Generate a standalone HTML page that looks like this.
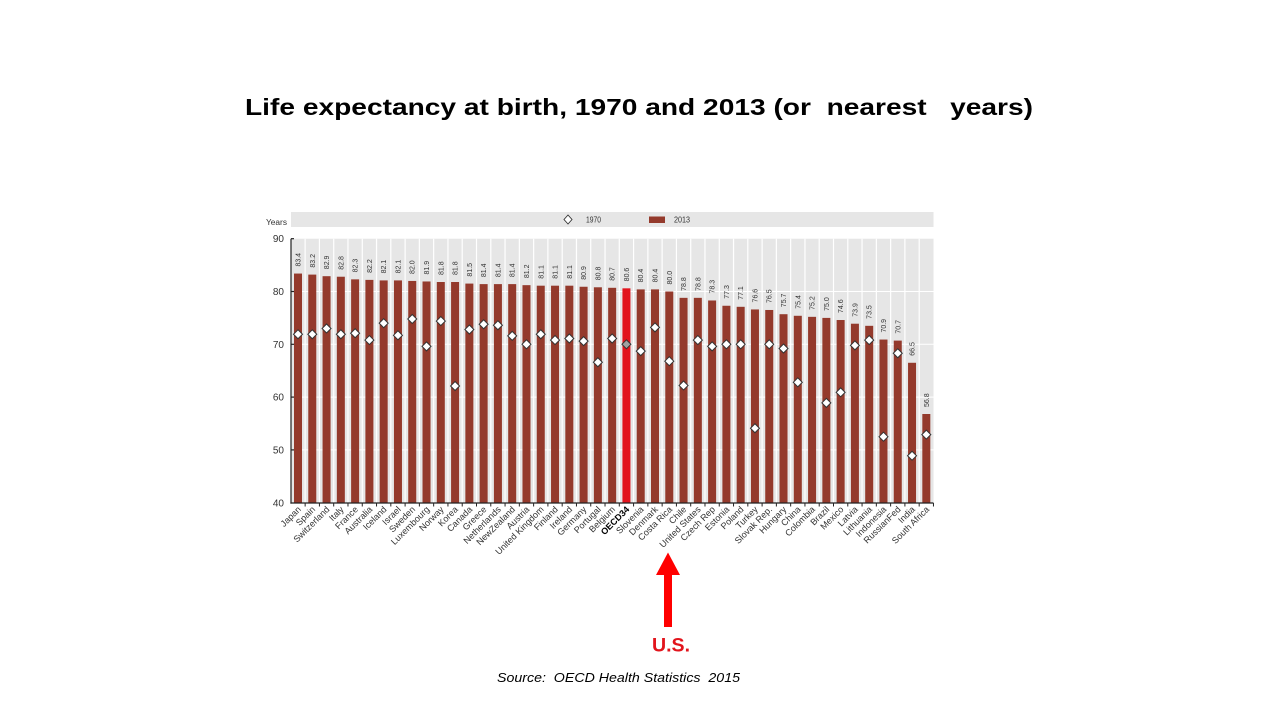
<!DOCTYPE html>
<html><head><meta charset="utf-8"><style>
html,body{margin:0;padding:0;background:#fff;}
svg{display:block;}
text{font-family:"Liberation Sans",Arial,sans-serif;}
.v{font-size:7px;fill:#333;}
.x{font-size:9px;fill:#333;text-anchor:end;}
.y{font-size:10px;fill:#333;text-anchor:end;}
</style></head><body>
<svg width="1280" height="720" viewBox="0 0 1280 720" xmlns="http://www.w3.org/2000/svg">
<defs>
<path id="d" d="M0,-4.5L4.5,0L0,4.5L-4.5,0Z" fill="#fff" stroke="#333" stroke-width="1"/>
</defs>
<rect width="1280" height="720" fill="#fff"/>
<text x="245" y="115" font-size="23.5" font-weight="bold" fill="#000" textLength="788" lengthAdjust="spacingAndGlyphs" style="white-space:pre">Life expectancy at birth, 1970 and 2013 (or  nearest   years)</text>

<!-- legend band -->
<rect x="291" y="212" width="642.5" height="15" fill="#e6e6e6"/>
<path d="M568,215L572,219.5L568,224L564,219.5Z" fill="#fff" stroke="#333" stroke-width="0.9"/>
<text x="586" y="222.5" font-size="8" fill="#333" textLength="15" lengthAdjust="spacingAndGlyphs">1970</text>
<rect x="649" y="216.5" width="16" height="6.5" fill="#943a2c"/>
<text x="674" y="222.5" font-size="8" fill="#333" textLength="16" lengthAdjust="spacingAndGlyphs">2013</text>
<text x="266" y="225" font-size="8" fill="#333" textLength="21" lengthAdjust="spacingAndGlyphs">Years</text>

<!-- plot area -->
<rect x="291" y="238.7" width="642.5" height="264.3" fill="#e6e6e6"/>
<g stroke="#fff" stroke-width="1">
<line x1="291" y1="291.5" x2="933.5" y2="291.5"/>
<line x1="291" y1="344.3" x2="933.5" y2="344.3"/>
<line x1="291" y1="397.1" x2="933.5" y2="397.1"/>
<line x1="291" y1="449.9" x2="933.5" y2="449.9"/>
</g>
<g stroke="#fff" stroke-width="1.2">
<line x1="305.14" y1="238.7" x2="305.14" y2="503"/>
<line x1="319.42" y1="238.7" x2="319.42" y2="503"/>
<line x1="333.70" y1="238.7" x2="333.70" y2="503"/>
<line x1="347.98" y1="238.7" x2="347.98" y2="503"/>
<line x1="362.26" y1="238.7" x2="362.26" y2="503"/>
<line x1="376.54" y1="238.7" x2="376.54" y2="503"/>
<line x1="390.82" y1="238.7" x2="390.82" y2="503"/>
<line x1="405.10" y1="238.7" x2="405.10" y2="503"/>
<line x1="419.38" y1="238.7" x2="419.38" y2="503"/>
<line x1="433.66" y1="238.7" x2="433.66" y2="503"/>
<line x1="447.94" y1="238.7" x2="447.94" y2="503"/>
<line x1="462.22" y1="238.7" x2="462.22" y2="503"/>
<line x1="476.50" y1="238.7" x2="476.50" y2="503"/>
<line x1="490.78" y1="238.7" x2="490.78" y2="503"/>
<line x1="505.06" y1="238.7" x2="505.06" y2="503"/>
<line x1="519.34" y1="238.7" x2="519.34" y2="503"/>
<line x1="533.62" y1="238.7" x2="533.62" y2="503"/>
<line x1="547.90" y1="238.7" x2="547.90" y2="503"/>
<line x1="562.18" y1="238.7" x2="562.18" y2="503"/>
<line x1="576.46" y1="238.7" x2="576.46" y2="503"/>
<line x1="590.74" y1="238.7" x2="590.74" y2="503"/>
<line x1="605.02" y1="238.7" x2="605.02" y2="503"/>
<line x1="619.30" y1="238.7" x2="619.30" y2="503"/>
<line x1="633.58" y1="238.7" x2="633.58" y2="503"/>
<line x1="647.86" y1="238.7" x2="647.86" y2="503"/>
<line x1="662.14" y1="238.7" x2="662.14" y2="503"/>
<line x1="676.42" y1="238.7" x2="676.42" y2="503"/>
<line x1="690.70" y1="238.7" x2="690.70" y2="503"/>
<line x1="704.98" y1="238.7" x2="704.98" y2="503"/>
<line x1="719.26" y1="238.7" x2="719.26" y2="503"/>
<line x1="733.54" y1="238.7" x2="733.54" y2="503"/>
<line x1="747.82" y1="238.7" x2="747.82" y2="503"/>
<line x1="762.10" y1="238.7" x2="762.10" y2="503"/>
<line x1="776.38" y1="238.7" x2="776.38" y2="503"/>
<line x1="790.66" y1="238.7" x2="790.66" y2="503"/>
<line x1="804.94" y1="238.7" x2="804.94" y2="503"/>
<line x1="819.22" y1="238.7" x2="819.22" y2="503"/>
<line x1="833.50" y1="238.7" x2="833.50" y2="503"/>
<line x1="847.78" y1="238.7" x2="847.78" y2="503"/>
<line x1="862.06" y1="238.7" x2="862.06" y2="503"/>
<line x1="876.34" y1="238.7" x2="876.34" y2="503"/>
<line x1="890.62" y1="238.7" x2="890.62" y2="503"/>
<line x1="904.90" y1="238.7" x2="904.90" y2="503"/>
<line x1="919.18" y1="238.7" x2="919.18" y2="503"/>
</g>

<!-- y axis labels -->
<text class="y" x="284" y="242.2">90</text>
<text class="y" x="284" y="295">80</text>
<text class="y" x="284" y="347.8">70</text>
<text class="y" x="284" y="400.6">60</text>
<text class="y" x="284" y="453.4">50</text>
<text class="y" x="284" y="506.5">40</text>

<!-- bars -->
<g fill="#943a2c">
<g transform="translate(298,0)"><rect x="-4" y="273.55" width="8" height="229.45"/><use href="#d" y="334.27"/><text class="v" transform="translate(2.5,266.55) rotate(-90)">83.4</text><text class="x" transform="translate(3.5,510) rotate(-45)">Japan</text></g>
<g transform="translate(312.28,0)"><rect x="-4" y="274.6" width="8" height="228.4"/><use href="#d" y="334.27"/><text class="v" transform="translate(2.5,267.6) rotate(-90)">83.2</text><text class="x" transform="translate(3.5,510) rotate(-45)">Spain</text></g>
<g transform="translate(326.56,0)"><rect x="-4" y="276.19" width="8" height="226.81"/><use href="#d" y="328.46"/><text class="v" transform="translate(2.5,269.19) rotate(-90)">82.9</text><text class="x" transform="translate(3.5,510) rotate(-45)">Switzerland</text></g>
<g transform="translate(340.84,0)"><rect x="-4" y="276.72" width="8" height="226.28"/><use href="#d" y="334.27"/><text class="v" transform="translate(2.5,269.72) rotate(-90)">82.8</text><text class="x" transform="translate(3.5,510) rotate(-45)">Italy</text></g>
<g transform="translate(355.12,0)"><rect x="-4" y="279.36" width="8" height="223.64"/><use href="#d" y="333.21"/><text class="v" transform="translate(2.5,272.36) rotate(-90)">82.3</text><text class="x" transform="translate(3.5,510) rotate(-45)">France</text></g>
<g transform="translate(369.4,0)"><rect x="-4" y="279.88" width="8" height="223.12"/><use href="#d" y="340.08"/><text class="v" transform="translate(2.5,272.88) rotate(-90)">82.2</text><text class="x" transform="translate(3.5,510) rotate(-45)">Australia</text></g>
<g transform="translate(383.68,0)"><rect x="-4" y="280.41" width="8" height="222.59"/><use href="#d" y="323.18"/><text class="v" transform="translate(2.5,273.41) rotate(-90)">82.1</text><text class="x" transform="translate(3.5,510) rotate(-45)">Iceland</text></g>
<g transform="translate(397.96,0)"><rect x="-4" y="280.41" width="8" height="222.59"/><use href="#d" y="335.32"/><text class="v" transform="translate(2.5,273.41) rotate(-90)">82.1</text><text class="x" transform="translate(3.5,510) rotate(-45)">Israel</text></g>
<g transform="translate(412.24,0)"><rect x="-4" y="280.94" width="8" height="222.06"/><use href="#d" y="318.96"/><text class="v" transform="translate(2.5,273.94) rotate(-90)">82.0</text><text class="x" transform="translate(3.5,510) rotate(-45)">Sweden</text></g>
<g transform="translate(426.52,0)"><rect x="-4" y="281.47" width="8" height="221.53"/><use href="#d" y="346.41"/><text class="v" transform="translate(2.5,274.47) rotate(-90)">81.9</text><text class="x" transform="translate(3.5,510) rotate(-45)">Luxembourg</text></g>
<g transform="translate(440.8,0)"><rect x="-4" y="282" width="8" height="221"/><use href="#d" y="321.07"/><text class="v" transform="translate(2.5,275) rotate(-90)">81.8</text><text class="x" transform="translate(3.5,510) rotate(-45)">Norway</text></g>
<g transform="translate(455.08,0)"><rect x="-4" y="282" width="8" height="221"/><use href="#d" y="386.01"/><text class="v" transform="translate(2.5,275) rotate(-90)">81.8</text><text class="x" transform="translate(3.5,510) rotate(-45)">Korea</text></g>
<g transform="translate(469.36,0)"><rect x="-4" y="283.58" width="8" height="219.42"/><use href="#d" y="329.52"/><text class="v" transform="translate(2.5,276.58) rotate(-90)">81.5</text><text class="x" transform="translate(3.5,510) rotate(-45)">Canada</text></g>
<g transform="translate(483.64,0)"><rect x="-4" y="284.11" width="8" height="218.89"/><use href="#d" y="324.24"/><text class="v" transform="translate(2.5,277.11) rotate(-90)">81.4</text><text class="x" transform="translate(3.5,510) rotate(-45)">Greece</text></g>
<g transform="translate(497.92,0)"><rect x="-4" y="284.11" width="8" height="218.89"/><use href="#d" y="325.29"/><text class="v" transform="translate(2.5,277.11) rotate(-90)">81.4</text><text class="x" transform="translate(3.5,510) rotate(-45)">Netherlands</text></g>
<g transform="translate(512.2,0)"><rect x="-4" y="284.11" width="8" height="218.89"/><use href="#d" y="335.85"/><text class="v" transform="translate(2.5,277.11) rotate(-90)">81.4</text><text class="x" transform="translate(3.5,510) rotate(-45)">NewZealand</text></g>
<g transform="translate(526.48,0)"><rect x="-4" y="285.16" width="8" height="217.84"/><use href="#d" y="344.3"/><text class="v" transform="translate(2.5,278.16) rotate(-90)">81.2</text><text class="x" transform="translate(3.5,510) rotate(-45)">Austria</text></g>
<g transform="translate(540.76,0)"><rect x="-4" y="285.69" width="8" height="217.31"/><use href="#d" y="334.27"/><text class="v" transform="translate(2.5,278.69) rotate(-90)">81.1</text><text class="x" transform="translate(3.5,510) rotate(-45)">United Kingdom</text></g>
<g transform="translate(555.04,0)"><rect x="-4" y="285.69" width="8" height="217.31"/><use href="#d" y="340.08"/><text class="v" transform="translate(2.5,278.69) rotate(-90)">81.1</text><text class="x" transform="translate(3.5,510) rotate(-45)">Finland</text></g>
<g transform="translate(569.32,0)"><rect x="-4" y="285.69" width="8" height="217.31"/><use href="#d" y="338.49"/><text class="v" transform="translate(2.5,278.69) rotate(-90)">81.1</text><text class="x" transform="translate(3.5,510) rotate(-45)">Ireland</text></g>
<g transform="translate(583.6,0)"><rect x="-4" y="286.75" width="8" height="216.25"/><use href="#d" y="341.13"/><text class="v" transform="translate(2.5,279.75) rotate(-90)">80.9</text><text class="x" transform="translate(3.5,510) rotate(-45)">Germany</text></g>
<g transform="translate(597.88,0)"><rect x="-4" y="287.28" width="8" height="215.72"/><use href="#d" y="362.25"/><text class="v" transform="translate(2.5,280.28) rotate(-90)">80.8</text><text class="x" transform="translate(3.5,510) rotate(-45)">Portugal</text></g>
<g transform="translate(612.16,0)"><rect x="-4" y="287.8" width="8" height="215.2"/><use href="#d" y="338.49"/><text class="v" transform="translate(2.5,280.8) rotate(-90)">80.7</text><text class="x" transform="translate(3.5,510) rotate(-45)">Belgium</text></g>
<g transform="translate(626.44,0)"><rect x="-4" y="288.33" width="8" height="214.67" fill="#e2141d"/><path d="M0,339.8L4.5,344.3L0,348.8L-4.5,344.3Z" fill="#a0a0a0" stroke="#333" stroke-width="1"/><text class="v" transform="translate(2.5,281.33) rotate(-90)">80.6</text><text class="x" transform="translate(3.5,510) rotate(-45)" style="font-weight:bold;fill:#000">OECD34</text></g>
<g transform="translate(640.72,0)"><rect x="-4" y="289.39" width="8" height="213.61"/><use href="#d" y="351.16"/><text class="v" transform="translate(2.5,282.39) rotate(-90)">80.4</text><text class="x" transform="translate(3.5,510) rotate(-45)">Slovenia</text></g>
<g transform="translate(655,0)"><rect x="-4" y="289.39" width="8" height="213.61"/><use href="#d" y="327.4"/><text class="v" transform="translate(2.5,282.39) rotate(-90)">80.4</text><text class="x" transform="translate(3.5,510) rotate(-45)">Denmark</text></g>
<g transform="translate(669.28,0)"><rect x="-4" y="291.5" width="8" height="211.5"/><use href="#d" y="361.2"/><text class="v" transform="translate(2.5,284.5) rotate(-90)">80.0</text><text class="x" transform="translate(3.5,510) rotate(-45)">Costa Rica</text></g>
<g transform="translate(683.56,0)"><rect x="-4" y="297.84" width="8" height="205.16"/><use href="#d" y="385.48"/><text class="v" transform="translate(2.5,290.84) rotate(-90)">78.8</text><text class="x" transform="translate(3.5,510) rotate(-45)">Chile</text></g>
<g transform="translate(697.84,0)"><rect x="-4" y="297.84" width="8" height="205.16"/><use href="#d" y="340.08"/><text class="v" transform="translate(2.5,290.84) rotate(-90)">78.8</text><text class="x" transform="translate(3.5,510) rotate(-45)">United States</text></g>
<g transform="translate(712.12,0)"><rect x="-4" y="300.48" width="8" height="202.52"/><use href="#d" y="346.41"/><text class="v" transform="translate(2.5,293.48) rotate(-90)">78.3</text><text class="x" transform="translate(3.5,510) rotate(-45)">Czech Rep</text></g>
<g transform="translate(726.4,0)"><rect x="-4" y="305.76" width="8" height="197.24"/><use href="#d" y="344.3"/><text class="v" transform="translate(2.5,298.76) rotate(-90)">77.3</text><text class="x" transform="translate(3.5,510) rotate(-45)">Estonia</text></g>
<g transform="translate(740.68,0)"><rect x="-4" y="306.81" width="8" height="196.19"/><use href="#d" y="344.3"/><text class="v" transform="translate(2.5,299.81) rotate(-90)">77.1</text><text class="x" transform="translate(3.5,510) rotate(-45)">Poland</text></g>
<g transform="translate(754.96,0)"><rect x="-4" y="309.45" width="8" height="193.55"/><use href="#d" y="428.25"/><text class="v" transform="translate(2.5,302.45) rotate(-90)">76.6</text><text class="x" transform="translate(3.5,510) rotate(-45)">Turkey</text></g>
<g transform="translate(769.24,0)"><rect x="-4" y="309.98" width="8" height="193.02"/><use href="#d" y="344.3"/><text class="v" transform="translate(2.5,302.98) rotate(-90)">76.5</text><text class="x" transform="translate(3.5,510) rotate(-45)">Slovak Rep.</text></g>
<g transform="translate(783.52,0)"><rect x="-4" y="314.2" width="8" height="188.8"/><use href="#d" y="348.52"/><text class="v" transform="translate(2.5,307.2) rotate(-90)">75.7</text><text class="x" transform="translate(3.5,510) rotate(-45)">Hungary</text></g>
<g transform="translate(797.8,0)"><rect x="-4" y="315.79" width="8" height="187.21"/><use href="#d" y="382.32"/><text class="v" transform="translate(2.5,308.79) rotate(-90)">75.4</text><text class="x" transform="translate(3.5,510) rotate(-45)">China</text></g>
<g transform="translate(812.08,0)"><rect x="-4" y="316.84" width="8" height="186.16"/><text class="v" transform="translate(2.5,309.84) rotate(-90)">75.2</text><text class="x" transform="translate(3.5,510) rotate(-45)">Colombia</text></g>
<g transform="translate(826.36,0)"><rect x="-4" y="317.9" width="8" height="185.1"/><use href="#d" y="402.91"/><text class="v" transform="translate(2.5,310.9) rotate(-90)">75.0</text><text class="x" transform="translate(3.5,510) rotate(-45)">Brazil</text></g>
<g transform="translate(840.64,0)"><rect x="-4" y="320.01" width="8" height="182.99"/><use href="#d" y="392.35"/><text class="v" transform="translate(2.5,313.01) rotate(-90)">74.6</text><text class="x" transform="translate(3.5,510) rotate(-45)">Mexico</text></g>
<g transform="translate(854.92,0)"><rect x="-4" y="323.71" width="8" height="179.29"/><use href="#d" y="345.36"/><text class="v" transform="translate(2.5,316.71) rotate(-90)">73.9</text><text class="x" transform="translate(3.5,510) rotate(-45)">Latvia</text></g>
<g transform="translate(869.2,0)"><rect x="-4" y="325.82" width="8" height="177.18"/><use href="#d" y="340.08"/><text class="v" transform="translate(2.5,318.82) rotate(-90)">73.5</text><text class="x" transform="translate(3.5,510) rotate(-45)">Lithuania</text></g>
<g transform="translate(883.48,0)"><rect x="-4" y="339.55" width="8" height="163.45"/><use href="#d" y="436.7"/><text class="v" transform="translate(2.5,332.55) rotate(-90)">70.9</text><text class="x" transform="translate(3.5,510) rotate(-45)">Indonesia</text></g>
<g transform="translate(897.76,0)"><rect x="-4" y="340.6" width="8" height="162.4"/><use href="#d" y="353.28"/><text class="v" transform="translate(2.5,333.6) rotate(-90)">70.7</text><text class="x" transform="translate(3.5,510) rotate(-45)">RussianFed</text></g>
<g transform="translate(912.04,0)"><rect x="-4" y="362.78" width="8" height="140.22"/><use href="#d" y="455.71"/><text class="v" transform="translate(2.5,355.78) rotate(-90)">66.5</text><text class="x" transform="translate(3.5,510) rotate(-45)">India</text></g>
<g transform="translate(926.32,0)"><rect x="-4" y="414" width="8" height="89"/><use href="#d" y="434.59"/><text class="v" transform="translate(2.5,407) rotate(-90)">56.8</text><text class="x" transform="translate(3.5,510) rotate(-45)">South Africa</text></g>
</g>

<!-- axes -->
<g stroke="#222" stroke-width="1.2" fill="none">
<line x1="291" y1="238.7" x2="291" y2="503.6"/>
<line x1="290.4" y1="503" x2="933.5" y2="503"/>
<line x1="291" y1="238.7" x2="294" y2="238.7"/>
<line x1="291" y1="291.5" x2="294" y2="291.5"/>
<line x1="291" y1="344.3" x2="294" y2="344.3"/>
<line x1="291" y1="397.1" x2="294" y2="397.1"/>
<line x1="291" y1="449.9" x2="294" y2="449.9"/>
</g>
<g stroke="#222" stroke-width="1">
<line x1="305.14" y1="503" x2="305.14" y2="506.5"/>
<line x1="319.42" y1="503" x2="319.42" y2="506.5"/>
<line x1="333.70" y1="503" x2="333.70" y2="506.5"/>
<line x1="347.98" y1="503" x2="347.98" y2="506.5"/>
<line x1="362.26" y1="503" x2="362.26" y2="506.5"/>
<line x1="376.54" y1="503" x2="376.54" y2="506.5"/>
<line x1="390.82" y1="503" x2="390.82" y2="506.5"/>
<line x1="405.10" y1="503" x2="405.10" y2="506.5"/>
<line x1="419.38" y1="503" x2="419.38" y2="506.5"/>
<line x1="433.66" y1="503" x2="433.66" y2="506.5"/>
<line x1="447.94" y1="503" x2="447.94" y2="506.5"/>
<line x1="462.22" y1="503" x2="462.22" y2="506.5"/>
<line x1="476.50" y1="503" x2="476.50" y2="506.5"/>
<line x1="490.78" y1="503" x2="490.78" y2="506.5"/>
<line x1="505.06" y1="503" x2="505.06" y2="506.5"/>
<line x1="519.34" y1="503" x2="519.34" y2="506.5"/>
<line x1="533.62" y1="503" x2="533.62" y2="506.5"/>
<line x1="547.90" y1="503" x2="547.90" y2="506.5"/>
<line x1="562.18" y1="503" x2="562.18" y2="506.5"/>
<line x1="576.46" y1="503" x2="576.46" y2="506.5"/>
<line x1="590.74" y1="503" x2="590.74" y2="506.5"/>
<line x1="605.02" y1="503" x2="605.02" y2="506.5"/>
<line x1="619.30" y1="503" x2="619.30" y2="506.5"/>
<line x1="633.58" y1="503" x2="633.58" y2="506.5"/>
<line x1="647.86" y1="503" x2="647.86" y2="506.5"/>
<line x1="662.14" y1="503" x2="662.14" y2="506.5"/>
<line x1="676.42" y1="503" x2="676.42" y2="506.5"/>
<line x1="690.70" y1="503" x2="690.70" y2="506.5"/>
<line x1="704.98" y1="503" x2="704.98" y2="506.5"/>
<line x1="719.26" y1="503" x2="719.26" y2="506.5"/>
<line x1="733.54" y1="503" x2="733.54" y2="506.5"/>
<line x1="747.82" y1="503" x2="747.82" y2="506.5"/>
<line x1="762.10" y1="503" x2="762.10" y2="506.5"/>
<line x1="776.38" y1="503" x2="776.38" y2="506.5"/>
<line x1="790.66" y1="503" x2="790.66" y2="506.5"/>
<line x1="804.94" y1="503" x2="804.94" y2="506.5"/>
<line x1="819.22" y1="503" x2="819.22" y2="506.5"/>
<line x1="833.50" y1="503" x2="833.50" y2="506.5"/>
<line x1="847.78" y1="503" x2="847.78" y2="506.5"/>
<line x1="862.06" y1="503" x2="862.06" y2="506.5"/>
<line x1="876.34" y1="503" x2="876.34" y2="506.5"/>
<line x1="890.62" y1="503" x2="890.62" y2="506.5"/>
<line x1="904.90" y1="503" x2="904.90" y2="506.5"/>
<line x1="919.18" y1="503" x2="919.18" y2="506.5"/>
<line x1="933.46" y1="503" x2="933.46" y2="506.5"/>
</g>

<!-- arrow -->
<polygon points="668,552.5 680,575 672,575 672,627 664,627 664,575 656,575" fill="#ff0000"/>
<text x="652" y="651.7" font-size="19" font-weight="bold" fill="#e2141c" textLength="38" lengthAdjust="spacingAndGlyphs">U.S.</text>

<text x="497" y="682" font-size="13" font-style="italic" fill="#000" textLength="243" lengthAdjust="spacingAndGlyphs" style="white-space:pre">Source:  OECD Health Statistics  2015</text>
</svg>
</body></html>
